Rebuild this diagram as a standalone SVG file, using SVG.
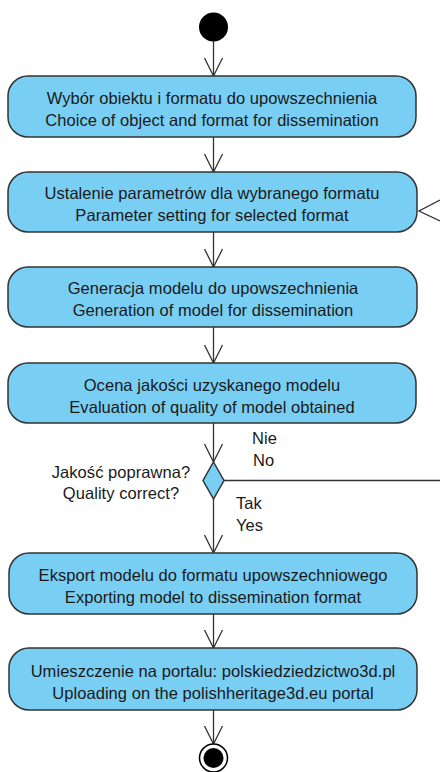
<svg xmlns="http://www.w3.org/2000/svg" width="440" height="772" viewBox="0 0 440 772">
  <style>
    .act { fill: #79CEF3; stroke: #333333; stroke-width: 1.5; }
    .lbl { font-family: "Liberation Sans", Arial, sans-serif; font-size: 16.5px; letter-spacing: 0.05px; fill: #1a1a1a; }
    .mid { text-anchor: middle; }
    .edge { fill: none; stroke: #333333; stroke-width: 1.3; }
  </style>
  <defs>
    <marker id="open" viewBox="0 0 20 20" refX="19" refY="10" markerWidth="20" markerHeight="20" markerUnits="userSpaceOnUse" orient="auto">
      <path d="M1,1 L19,10 L1,19" fill="none" stroke="#333333" stroke-width="1.3"/>
    </marker>
  </defs>

  <rect width="440" height="772" fill="#ffffff"/>

  <!-- connectors -->
  <g id="edges">
    <line class="edge" x1="213.5" y1="41" x2="213.5" y2="76" marker-end="url(#open)"/>
    <line class="edge" x1="213.5" y1="137" x2="213.5" y2="172" marker-end="url(#open)"/>
    <line class="edge" x1="213.5" y1="232" x2="213.5" y2="267" marker-end="url(#open)"/>
    <line class="edge" x1="213.5" y1="327" x2="213.5" y2="363" marker-end="url(#open)"/>
    <line class="edge" x1="213.5" y1="423" x2="213.5" y2="462" marker-end="url(#open)"/>
    <line class="edge" x1="213.5" y1="499" x2="213.5" y2="553" marker-end="url(#open)"/>
    <line class="edge" x1="213.5" y1="614" x2="213.5" y2="648" marker-end="url(#open)"/>
    <line class="edge" x1="213.5" y1="710" x2="213.5" y2="744" marker-end="url(#open)"/>
    <!-- "No" branch leaving to the right -->
    <line class="edge" x1="224" y1="480.5" x2="440" y2="480.5"/>
    <!-- loop back entering the parameter-setting action -->
    <path class="edge" d="M440,200 L419,211 L440,221"/>
  </g>

  <!-- start -->
  <g id="start">
    <circle cx="213.5" cy="27" r="14.5" fill="#000000"/>
  </g>

  <g id="choose">
    <rect class="act" x="8" y="76" width="408" height="61" rx="20"/>
    <text class="lbl mid" x="212" y="104">Wybór obiektu i formatu do upowszechnienia</text>
    <text class="lbl mid" x="212" y="126">Choice of object and format for dissemination</text>
  </g>

  <g id="params">
    <rect class="act" x="8" y="172" width="409" height="60" rx="20"/>
    <text class="lbl mid" x="212" y="199">Ustalenie parametrów dla wybranego formatu</text>
    <text class="lbl mid" x="212" y="221">Parameter setting for selected format</text>
  </g>

  <g id="generate">
    <rect class="act" x="8" y="267" width="409" height="60" rx="20"/>
    <text class="lbl mid" x="213" y="294">Generacja modelu do upowszechnienia</text>
    <text class="lbl mid" x="213" y="316">Generation of model for dissemination</text>
  </g>

  <g id="evaluate">
    <rect class="act" x="8" y="363" width="408" height="60" rx="20"/>
    <text class="lbl mid" x="212" y="391">Ocena jakości uzyskanego modelu</text>
    <text class="lbl mid" x="212" y="413">Evaluation of quality of model obtained</text>
  </g>

  <g id="decision">
    <polygon class="act" points="213.5,462 224,480.5 213.5,499 203,480.5"/>
    <text class="lbl mid" x="121" y="478">Jakość poprawna?</text>
    <text class="lbl mid" x="121" y="499">Quality correct?</text>
    <text class="lbl" x="252" y="444">Nie</text>
    <text class="lbl" x="253" y="466">No</text>
    <text class="lbl" x="236" y="509">Tak</text>
    <text class="lbl" x="236" y="531">Yes</text>
  </g>

  <g id="export">
    <rect class="act" x="9" y="553" width="408" height="61" rx="20"/>
    <text class="lbl mid" x="213" y="581">Eksport modelu do formatu upowszechniowego</text>
    <text class="lbl mid" x="213" y="603">Exporting model to dissemination format</text>
  </g>

  <g id="upload">
    <rect class="act" x="9" y="648" width="408" height="62" rx="20"/>
    <text class="lbl mid" x="213" y="677">Umieszczenie na portalu: polskiedziedzictwo3d.pl</text>
    <text class="lbl mid" x="213" y="699">Uploading on the polishheritage3d.eu portal</text>
  </g>

  <!-- final -->
  <g id="end">
    <circle cx="213.5" cy="758" r="14" fill="#ffffff" stroke="#000000" stroke-width="1.5"/>
    <circle cx="213.5" cy="758" r="10" fill="#000000"/>
  </g>
</svg>
